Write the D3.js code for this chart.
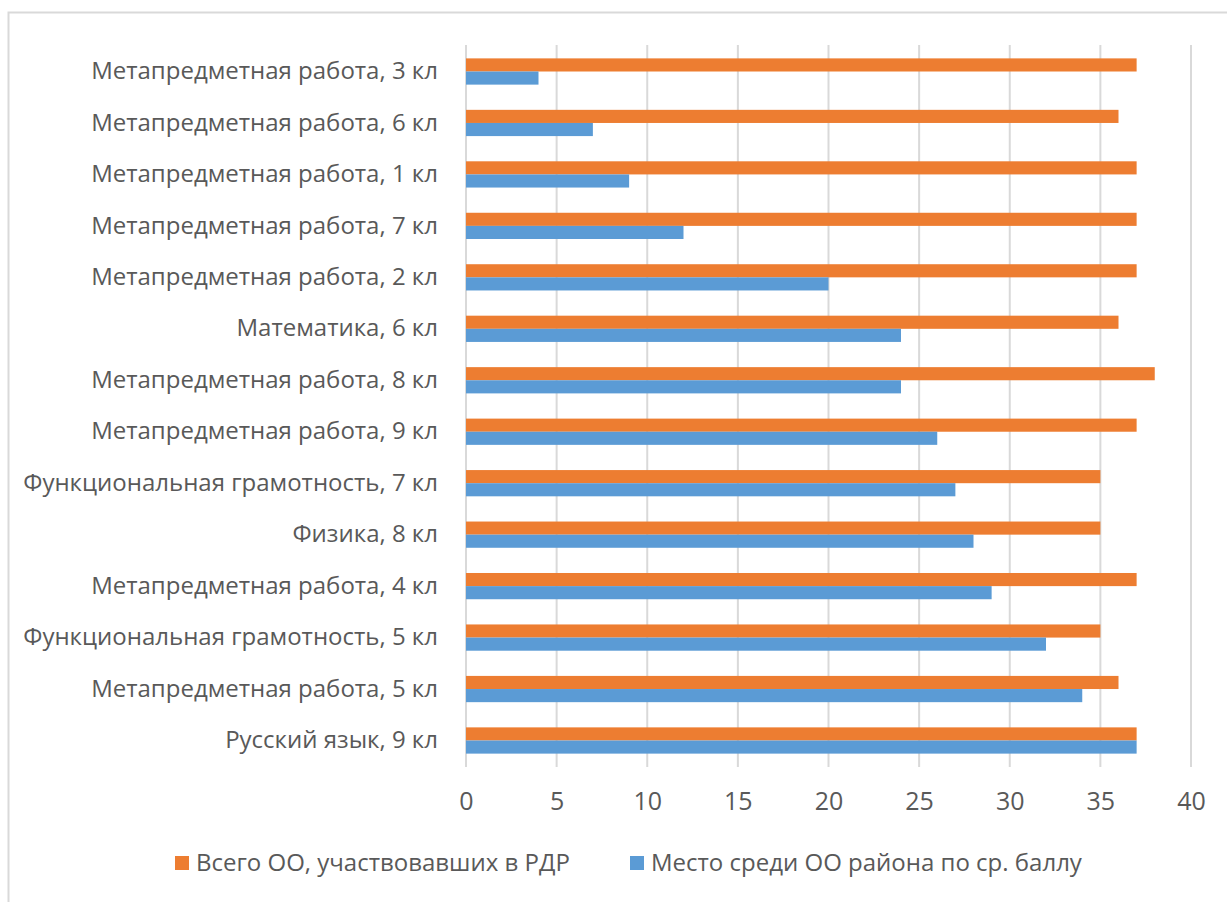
<!DOCTYPE html>
<html>
  <head>
    <meta charset="utf-8">
    <script src="https://d3js.org/d3.v7.min.js"></script>
  </head>
  <body>
<svg id="svg"></svg>
<style>
body {
  margin: 0;
  background: #fff;
  font-family: 'Open Sans', 'Noto Sans', sans-serif;
}
#svg text {
  fill: #595959;
}
</style>
<script type="text/javascript">
const categories = [
  "Метапредметная работа, 3 кл",
  "Метапредметная работа, 6 кл",
  "Метапредметная работа, 1 кл",
  "Метапредметная работа, 7 кл",
  "Метапредметная работа, 2 кл",
  "Математика, 6 кл",
  "Метапредметная работа, 8 кл",
  "Метапредметная работа, 9 кл",
  "Функциональная грамотность, 7 кл",
  "Физика, 8 кл",
  "Метапредметная работа, 4 кл",
  "Функциональная грамотность, 5 кл",
  "Метапредметная работа, 5 кл",
  "Русский язык, 9 кл"
]
const totalSchools = [37, 36, 37, 37, 37, 36, 38, 37, 35, 35, 37, 35, 36, 37] // Всего ОО
const placeByScore = [4, 7, 9, 12, 20, 24, 24, 26, 27, 28, 29, 32, 34, 37]   // Место
const xTicks = [0, 5, 10, 15, 20, 25, 30, 35, 40]
const seriesNames = ["Всего ОО, участвовавших в РДР", "Место среди ОО района по ср. баллу"]
const colors = ["#ed7d31", "#5b9bd5"]

const W = 1227, H = 902
const plotLeft = 466, plotRight = 1191, plotTop = 45, plotBottom = 767

const svg = d3.select("#svg").attr("width", W).attr("height", H)

// frame (only top/left visible in the crop)
svg.append("rect")
  .attr("x", 8.5).attr("y", 12.5)
  .attr("width", W + 20).attr("height", H + 20)
  .attr("fill", "none").attr("stroke", "#d9d9d9").attr("stroke-width", 2)

const x = d3.scaleLinear().domain([0, 40]).range([plotLeft, plotRight])
const y = d3.scaleBand().domain(categories).range([plotTop, plotBottom]).paddingInner(0.49).paddingOuter(0.26)
const ySub = d3.scaleBand().domain([0, 1]).range([0, y.bandwidth()])

// gridlines
svg.append("g").selectAll("line")
  .data(xTicks)
  .enter()
  .append("line")
  .attr("x1", d => x(d)).attr("x2", d => x(d))
  .attr("y1", plotTop).attr("y2", plotBottom)
  .attr("stroke", "#d9d9d9").attr("stroke-width", 2)

const rows = svg.append("g").selectAll("g")
  .data(categories)
  .enter()
  .append("g")
  .attr("transform", d => `translate(0,${y(d)})`)

rows.append("rect")
  .attr("x", x(0))
  .attr("y", ySub(0))
  .attr("height", ySub.bandwidth())
  .attr("width", (d, i) => x(totalSchools[i]) - x(0))
  .attr("fill", colors[0])

rows.append("rect")
  .attr("x", x(0))
  .attr("y", ySub(1))
  .attr("height", ySub.bandwidth())
  .attr("width", (d, i) => x(placeByScore[i]) - x(0))
  .attr("fill", colors[1])

// category labels
const yAxis = d3.axisLeft(y).tickSize(0).tickPadding(28)
const gy = svg.append("g").attr("transform", `translate(${plotLeft},0)`).call(yAxis)
gy.select(".domain").remove()
gy.selectAll("text").attr("font-size", 24).attr("font-family", "'Open Sans', sans-serif")

// x tick labels
const xAxis = d3.axisBottom(x).tickValues(xTicks).tickSize(0).tickPadding(25)
const gx = svg.append("g").attr("transform", `translate(0,${plotBottom})`).call(xAxis)
gx.select(".domain").remove()
gx.selectAll("text").attr("font-size", 25).attr("font-family", "'Open Sans', sans-serif")

// legend
const legendX = [175, 630]
const legend = svg.append("g").selectAll("g")
  .data(seriesNames)
  .enter()
  .append("g")
  .attr("transform", (d, i) => `translate(${legendX[i]},856)`)
legend.append("rect").attr("width", 14).attr("height", 14).attr("fill", (d, i) => colors[i])
legend.append("text")
  .attr("x", 21).attr("y", 7).attr("dy", "0.35em")
  .attr("font-size", 24)
  .text(d => d)
</script>
</body>
</html>
